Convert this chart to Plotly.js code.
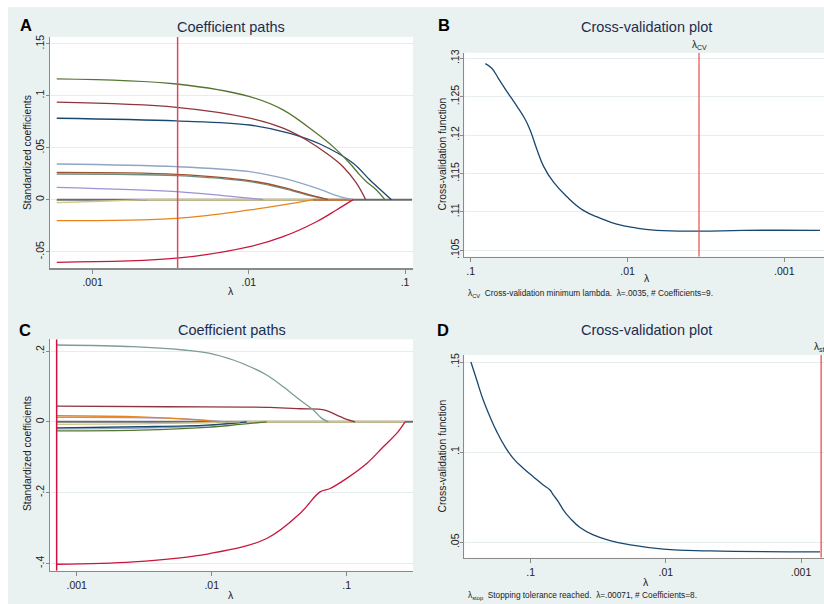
<!DOCTYPE html>
<html><head><meta charset="utf-8">
<script src="https://cdn.plot.ly/plotly-3.0.1.min.js"></script>
<style>html,body{margin:0;padding:0;background:#fff}</style>
</head><body><div id="chart" style="width:824px;height:604px"></div>
<script>
// ---------- Panel A: coefficient paths (lambda, standardized coefficient) ----------
const aGreenLam = [0.000589, 0.003443, 0.01014, 0.01656, 0.02710, 0.03459, 0.04426, 0.05129, 0.05662, 0.06561, 0.07430];
const aGreenVal = [0.1161, 0.1112, 0.0990, 0.0863, 0.0638, 0.0510, 0.0350, 0.0238, 0.0173, 0.0093, 0];
const aMaroonLam = [0.000589, 0.003443, 0.01014, 0.01656, 0.02339, 0.03141, 0.04009, 0.04887, 0.05598];
const aMaroonVal = [0.0937, 0.0888, 0.0783, 0.0687, 0.0574, 0.0446, 0.0317, 0.0158, 0];
const aNavyLam = [0.000589, 0.003443, 0.01014, 0.01832, 0.02851, 0.04656, 0.05957, 0.08185];
const aNavyVal = [0.0783, 0.0757, 0.0718, 0.0638, 0.0535, 0.0350, 0.0189, 0];
const aSteelLam = [0.000589, 0.003443, 0.01014, 0.01656, 0.02710, 0.03819, 0.04656];
const aSteelVal = [0.0343, 0.0317, 0.0269, 0.0206, 0.0110, 0.0029, 0];
const aSiennaLam = [0.000589, 0.003443, 0.01014, 0.01656, 0.02455, 0.03214];
const aSiennaVal = [0.0263, 0.0244, 0.0183, 0.0119, 0.0045, 0];
const aTealLam = [0.000589, 0.003443, 0.01014, 0.01656, 0.02455, 0.03214];
const aTealVal = [0.0247, 0.0231, 0.0173, 0.0109, 0.0038, 0];
const aLavenderLam = [0.000589, 0.003443, 0.00794, 0.01236];
const aLavenderVal = [0.0119, 0.0077, 0.0029, 0];
const aKhakiLam = [0.000589, 0.001114, 0.002213, 0.02576];
const aKhakiVal = [-0.0029, -0.0015, 0, 0];
const aOrangeLam = [0.000589, 0.003443, 0.01014, 0.01656, 0.02576];
const aOrangeVal = [-0.0202, -0.0179, -0.0099, -0.0051, 0];
const aOrangeZeroTo = 0.04656;
const aCranLam = [0.000589, 0.003443, 0.01014, 0.01656, 0.02710, 0.03639, 0.04656];
const aCranVal = [-0.0602, -0.0563, -0.0452, -0.0356, -0.0212, -0.0099, 0];
const aLamRange = [0.000589, 0.1109];
const lambdaCV = 0.0035;

// ---------- Panel B: cross-validation function ----------
const bLam = [0.08072, 0.07345, 0.06668, 0.05888, 0.05093, 0.04508, 0.04188, 0.03793, 0.03443, 0.02972, 0.02443, 0.01914, 0.01496, 0.01172, 0.008730, 0.006516, 0.003451, 0.001824, 0.000592];
const bCV = [0.1293, 0.1287, 0.1274, 0.1257, 0.1238, 0.1221, 0.1207, 0.1182, 0.1160, 0.1139, 0.1120, 0.1102, 0.1092, 0.1084, 0.1079, 0.1076, 0.1075, 0.1076, 0.1076];

// ---------- Panel C: coefficient paths ----------
const cTealLam = [0.000711, 0.002624, 0.006166, 0.009705, 0.01445, 0.01923, 0.02553, 0.03388, 0.04508, 0.05662, 0.06531, 0.07311];
const cTealVal = [0.2170, 0.2122, 0.2028, 0.1935, 0.1746, 0.1556, 0.1321, 0.0990, 0.0614, 0.0331, 0.0096, 0];
const cMaroonLam = [0.000711, 0.004645, 0.02704, 0.04508, 0.06902, 0.08433, 0.1, 0.1153];
const cMaroonVal = [0.0444, 0.0424, 0.0407, 0.0368, 0.0331, 0.0190, 0.0068, 0];
const cCranLam = [0.000711, 0.002624, 0.009705, 0.02553, 0.04508, 0.06339, 0.07534, 0.1, 0.1406, 0.1866, 0.2344, 0.2704];
const cCranVal = [-0.4026, -0.3960, -0.3724, -0.3300, -0.2590, -0.1980, -0.1886, -0.1600, -0.1180, -0.0707, -0.0330, 0];
const cOrangeLam = [0.000711, 0.002944, 0.006902, 0.01153];
const cOrangeVal = [0.0170, 0.0141, 0.0068, 0];
const cLavenderLam = [0.000711, 0.005200, 0.01291];
const cLavenderVal = [0.0124, 0.0096, 0];
const cKhakiLam = [0.000711, 0.002944, 0.009183, 0.01622];
const cKhakiVal = [-0.0074, -0.0057, -0.0028, 0];
const cKhakiZeroTo = 0.2704;
const cNavyLam = [0.000711, 0.002944, 0.009183, 0.01816];
const cNavyVal = [-0.0170, -0.0141, -0.0093, 0];
const cSteelLam = [0.000711, 0.002944, 0.009183, 0.01816];
const cSteelVal = [-0.0198, -0.0178, -0.0113, 0];
const cGreenLam = [0.000711, 0.002944, 0.009183, 0.01622, 0.02553];
const cGreenVal = [-0.0255, -0.0235, -0.0158, -0.0074, 0];
const cLamRange = [0.000711, 0.3097];
const lambdaStop = 0.00071;

// ---------- Panel D: cross-validation function ----------
const dLam = [0.2767, 0.2506, 0.2244, 0.2000, 0.1782, 0.1549, 0.1346, 0.1135, 0.09572, 0.08072, 0.07194, 0.06808, 0.06252, 0.05741, 0.05117, 0.04315, 0.03443, 0.02588, 0.01845, 0.01045, 0.004721, 0.000724];
const dCV = [0.1500, 0.1400, 0.1289, 0.1197, 0.1114, 0.1031, 0.0966, 0.0911, 0.0864, 0.0818, 0.0790, 0.0763, 0.0726, 0.0680, 0.0634, 0.0582, 0.0541, 0.0509, 0.0486, 0.0462, 0.0452, 0.0447];

// ---------- Tick labels ----------
const xTickVals = [0.001, 0.01, 0.1];
const xTickText = ['.001', '.01', '.1'];
const aYTickVals = [-0.05, 0, 0.05, 0.1, 0.15];
const aYTickText = ['-.05', '0', '.05', '.1', '.15'];
const bYTickVals = [0.105, 0.11, 0.115, 0.12, 0.125, 0.13];
const bYTickText = ['.105', '.11', '.115', '.12', '.125', '.13'];
const cYTickVals = [-0.4, -0.2, 0, 0.2];
const cYTickText = ['-.4', '-.2', '0', '.2'];
const dYTickVals = [0.05, 0.1, 0.15];
const dYTickText = ['.05', '.1', '.15'];

// ---------- Styling ----------
const W = 824, H = 604;
const C = {
  navy: '#1a476f', maroon: '#90353b', green: '#55752f', orange: '#e8841a',
  teal: '#6e8e84', cran: '#c8163c', lavender: '#9a94d6', khaki: '#cdc58a',
  sienna: '#a0522d', steel: '#8ea6c4', zero: '#6a6a6a', cTeal: '#7c9c96'
};
const FONT = 'Liberation Sans, Arial, sans-serif';
const px = x => x / W;
const py = y => 1 - y / H;

const aYRange = [-0.0657, 0.1564];
const bYRange = [0.10417, 0.13073];
const cYRange = [-0.4209, 0.2331];
const dYRange = [0.04146, 0.1539];

function ln(x, y, color, ax, opts) {
  opts = opts || {};
  return {
    type: 'scatter', mode: 'lines', x: x, y: y,
    xaxis: 'x' + (ax === 1 ? '' : ax), yaxis: 'y' + (ax === 1 ? '' : ax),
    line: { color: color, width: opts.width || 1.3, shape: opts.shape || 'spline', smoothing: opts.smoothing || 1 },
    hoverinfo: 'skip', showlegend: false
  };
}

const traces = [
  // Panel A
  ln(aLamRange, [0, 0], C.zero, 1, { width: 2, shape: 'linear' }),
  ln([aKhakiLam[0], aKhakiLam[1], aKhakiLam[2]], [aKhakiVal[0], aKhakiVal[1], aKhakiVal[2]], C.khaki, 1),
  ln([aKhakiLam[2], aKhakiLam[3]], [0, 0], C.khaki, 1, { width: 2, shape: 'linear' }),
  ln([aOrangeLam[aOrangeLam.length - 1], aOrangeZeroTo], [0, 0], '#c9773a', 1, { width: 2, shape: 'linear' }),
  ln(aOrangeLam, aOrangeVal, C.orange, 1),
  ln(aLavenderLam, aLavenderVal, C.lavender, 1),
  ln(aTealLam, aTealVal, C.teal, 1),
  ln(aSiennaLam, aSiennaVal, C.sienna, 1),
  ln(aSteelLam, aSteelVal, C.steel, 1),
  ln(aCranLam, aCranVal, C.cran, 1),
  ln(aNavyLam, aNavyVal, C.navy, 1),
  ln(aMaroonLam, aMaroonVal, C.maroon, 1),
  ln(aGreenLam, aGreenVal, C.green, 1),
  ln([lambdaCV, lambdaCV], aYRange, '#dc4a60', 1, { width: 1.5, shape: 'linear' }),
  // Panel B
  ln(bLam, bCV, C.navy, 2, { smoothing: 1.3 }),
  ln([lambdaCV, lambdaCV], bYRange, '#f04848', 2, { width: 1.2, shape: 'linear' }),
  // Panel C
  ln(cLamRange, [0, 0], C.zero, 3, { width: 2, shape: 'linear' }),
  ln([cKhakiLam[cKhakiLam.length - 1], cKhakiZeroTo], [0, 0], C.khaki, 3, { width: 2, shape: 'linear' }),
  ln(cGreenLam, cGreenVal, C.green, 3),
  ln(cSteelLam, cSteelVal, C.steel, 3),
  ln(cNavyLam, cNavyVal, C.navy, 3),
  ln(cKhakiLam, cKhakiVal, C.khaki, 3),
  ln(cLavenderLam, cLavenderVal, C.lavender, 3),
  ln(cOrangeLam, cOrangeVal, C.orange, 3),
  ln(cCranLam, cCranVal, C.cran, 3),
  ln(cMaroonLam, cMaroonVal, C.maroon, 3),
  ln(cTealLam, cTealVal, C.cTeal, 3),
  ln([lambdaStop, lambdaStop], cYRange, '#d4103c', 3, { width: 1.5, shape: 'linear' }),
  // Panel D
  ln(dLam, dCV, C.navy, 4, { smoothing: 1.3 }),
  ln([lambdaStop, lambdaStop], dYRange, '#f03c3c', 4, { width: 1.2, shape: 'linear' })
];

const axBase = {
  showline: true, linecolor: '#8a8a8a', linewidth: 1.5,
  ticks: 'outside', ticklen: 4, tickcolor: '#8a8a8a', tickwidth: 1,
  tickfont: { family: FONT, size: 10.5, color: '#222' },
  zeroline: false, fixedrange: true
};
function xAx(domain, range) {
  return Object.assign({}, axBase, {
    type: 'log', domain: domain, range: range, showgrid: false,
    tickvals: xTickVals, ticktext: xTickText, tickmode: 'array'
  });
}
function yAx(domain, range, tv, tt, anchor) {
  return Object.assign({}, axBase, {
    domain: domain, range: range, showgrid: true, gridcolor: '#e6eded', gridwidth: 1,
    tickvals: tv, ticktext: tt, tickmode: 'array', tickangle: -90, anchor: anchor,
    ticklen: 3, ticklabelstandoff: -3
  });
}

const colA = [px(50), px(413)];
const colB = [px(464.3), 1];
const rowA = [py(268), py(37)];
const rowB = [py(256.7), py(52.7)];
const rowC = [py(570.7), py(339.3)];
const rowD = [py(557.7), py(355)];

function ann(text, x, y, size, o) {
  o = o || {};
  return Object.assign({
    text: text, x: px(x), y: py(y), xref: 'paper', yref: 'paper',
    showarrow: false, xanchor: 'center', yanchor: 'middle',
    font: { family: FONT, size: size, color: o.color || '#222' }
  }, o.extra || {});
}

const titleColor = '#1e2d4f';
const annotations = [
  ann('<b>A</b>', 18, 25, 16.5, { color: '#000', extra: { xanchor: 'left' } }),
  ann('<b>B</b>', 436, 25, 16.5, { color: '#000', extra: { xanchor: 'left' } }),
  ann('<b>C</b>', 17, 330, 16.5, { color: '#000', extra: { xanchor: 'left' } }),
  ann('<b>D</b>', 435, 330, 16.5, { color: '#000', extra: { xanchor: 'left' } }),
  ann('Coefficient paths', 231, 27, 14.5, { color: titleColor }),
  ann('Cross-validation plot', 646, 27, 14.5, { color: titleColor }),
  ann('Coefficient paths', 231.5, 330, 14.5, { color: titleColor }),
  ann('Cross-validation plot', 646, 329.5, 14.5, { color: titleColor }),
  ann('Standardized coefficients', 27, 153, 10.3, { extra: { textangle: -90 } }),
  ann('Standardized coefficients', 27, 454, 10.3, { extra: { textangle: -90 } }),
  ann('Cross-validation function', 441.5, 154, 10.3, { extra: { textangle: -90 } }),
  ann('Cross-validation function', 441.5, 456, 10.3, { extra: { textangle: -90 } }),
  ann('λ', 231, 291, 10.5),
  ann('λ', 646.5, 278, 10.5),
  ann('λ', 231, 595, 10.5),
  ann('λ', 645.7, 581.5, 10.5),
  ann('λ<sub>CV</sub>\u00a0\u00a0Cross-validation minimum lambda.\u00a0\u00a0λ=.0035, # Coefficients=9.', 466, 293.5, 8.3, { extra: { xanchor: 'left' } }),
  ann('λ<sub>stop</sub>\u00a0\u00a0Stopping tolerance reached.\u00a0\u00a0λ=.00071, # Coefficients=8.', 466, 595, 8.3, { extra: { xanchor: 'left' } }),
  {
    text: 'λ<sub>CV</sub>', x: Math.log10(lambdaCV), xref: 'x2', y: py(45.5), yref: 'paper',
    showarrow: false, xanchor: 'center', yanchor: 'middle', font: { family: FONT, size: 10, color: '#222' }
  },
  {
    text: 'λ<sub>stop</sub>', x: Math.log10(lambdaStop), xref: 'x4', xshift: -9, y: py(348), yref: 'paper',
    showarrow: false, xanchor: 'left', yanchor: 'middle', font: { family: FONT, size: 10, color: '#222' }
  }
];

const layout = {
  width: W, height: H, margin: { l: 0, r: 0, t: 0, b: 0 },
  paper_bgcolor: '#e9f1f1', plot_bgcolor: '#ffffff', showlegend: false,
  font: { family: FONT },
  xaxis: xAx(colA, [-3.273, -0.949]),
  yaxis: yAx(rowA, aYRange, aYTickVals, aYTickText, 'x'),
  xaxis2: Object.assign(xAx(colB, [-0.959, -3.253]), { anchor: 'y2' }),
  yaxis2: yAx(rowB, bYRange, bYTickVals, bYTickText, 'x2'),
  xaxis3: Object.assign(xAx(colA, [-3.198, -0.509]), { anchor: 'y3' }),
  yaxis3: yAx(rowC, cYRange, cYTickVals, cYTickText, 'x3'),
  xaxis4: Object.assign(xAx(colB, [-0.509, -3.170]), { anchor: 'y4' }),
  yaxis4: yAx(rowD, dYRange, dYTickVals, dYTickText, 'x4'),
  annotations: annotations,
  shapes: [
    { type: 'rect', xref: 'paper', yref: 'paper', x0: 0, x1: px(8), y0: 0, y1: 1, fillcolor: '#ffffff', line: { width: 0 }, layer: 'below' },
    { type: 'rect', xref: 'paper', yref: 'paper', x0: 0, x1: 1, y0: py(7), y1: 1, fillcolor: '#ffffff', line: { width: 0 }, layer: 'below' }
  ]
};
layout.xaxis.anchor = 'y';

Plotly.newPlot('chart', traces, layout, { staticPlot: true, displayModeBar: false });
</script></body></html>
